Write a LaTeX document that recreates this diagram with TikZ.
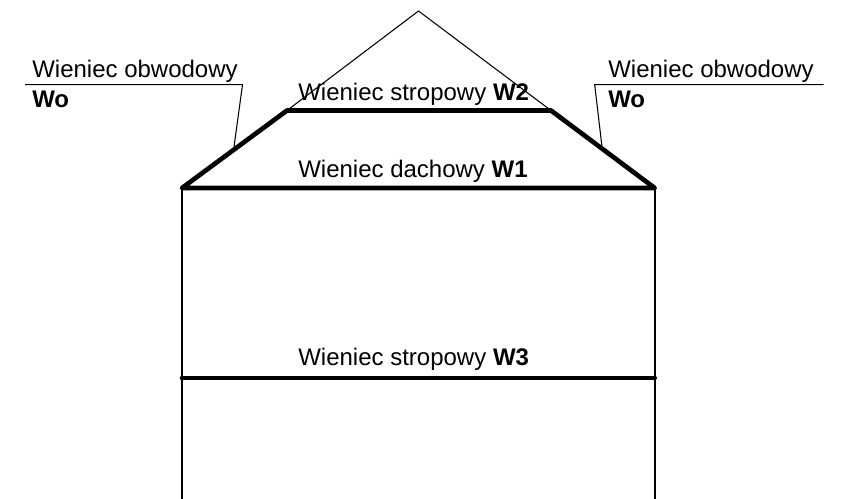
\documentclass[tikz,border=0pt]{standalone}
\usepackage{fontspec}
\setmainfont{Liberation Sans}
\tikzset{thin line/.style={line width=0.8pt,black},wall line/.style={line width=1.2pt,black},thick line/.style={line width=3.5pt,black,line cap=round,line join=round},lbl/.style={inner sep=0pt,anchor=base west,font=\fontsize{18}{20}\selectfont}}
\begin{document}
\begin{tikzpicture}[x=0.75pt,y=-0.75pt]
\useasboundingbox (0,0) rectangle (842,499);
\coordinate (apex) at (418.5,11);
\coordinate (L1) at (182,188);
\coordinate (R1) at (654.7,188);
\coordinate (L2) at (287,110.5);
\coordinate (R2) at (551,110.5);
\coordinate (L3) at (182,378);
\coordinate (R3) at (654.7,378);
\coordinate (LB) at (182,499);
\coordinate (RB) at (654.7,499);
\draw[thin line] (L2) -- (apex) -- (R2);
\draw[wall line] (L1) -- (LB);
\draw[wall line] (R1) -- (RB);
\draw[thick line] (L1) -- (R1) -- (R2) -- (L2) -- cycle;
\draw[thick line] (L3) -- (R3);
\coordinate (a1) at (25,84.7);
\coordinate (a2) at (242.5,84.7);
\coordinate (a3) at (234,147);
\draw[thin line] (a1) -- (a2) -- (a3);
\coordinate (b1) at (823.7,84.7);
\coordinate (b2) at (594.7,84.7);
\coordinate (b3) at (602,147);
\draw[thin line] (b1) -- (b2) -- (b3);
\node[lbl] (t1) at (32,78) {Wieniec obwodowy};
\node[lbl] (t2) at (32,108) {\textbf{Wo}};
\node[lbl] (t3) at (608,78) {Wieniec obwodowy};
\node[lbl] (t4) at (608,108) {\textbf{Wo}};
\node[lbl] (t5) at (298,101) {Wieniec stropowy \textbf{W2}};
\node[lbl] (t6) at (298,178) {Wieniec dachowy \textbf{W1}};
\node[lbl] (t7) at (298,365) {Wieniec stropowy \textbf{W3}};
\end{tikzpicture}
\end{document}
